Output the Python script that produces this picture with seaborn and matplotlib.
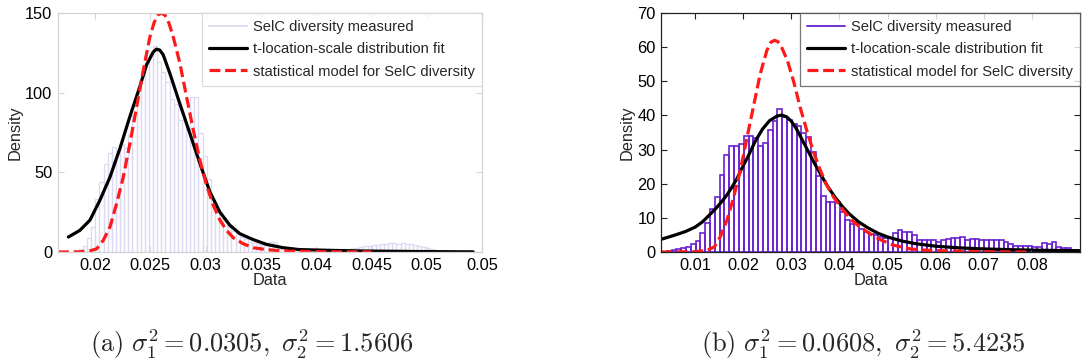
import numpy as np
import pandas as pd
import matplotlib
matplotlib.use("Agg")
import matplotlib.pyplot as plt
from matplotlib.lines import Line2D
import seaborn as sns

# ---------------- data (a) ----------------
a_bin_start = 0.0178
a_bin_width = 0.000373
a_heights = [0.3, 0.8, 2, 4, 9, 16, 33, 44, 55, 62,
             66, 62, 68, 65, 74, 86, 99, 111, 119, 124,
             129, 119, 113, 107, 96, 93, 83, 83, 78, 97,
             97, 75, 60, 46, 33, 27, 21, 19, 16, 13,
             11, 9.5, 8, 6.5, 5.7, 5, 4.5, 5, 6.5, 6.5,
             4, 3, 2.5, 2.2, 2, 1.8, 1.6, 1.5, 1.3, 1.2,
             1, 1, 0.9, 0.9, 1, 1.3, 1.6, 2, 2.3, 2.8,
             3.2, 3.5, 3.8, 4.2, 4.6, 5, 5.2, 5.4, 5.5, 5.3,
             5.5, 5.2, 4.8, 4.5, 4, 3.2, 2.4, 1.6, 1, 0.5,
             0.3, 0.2, 0.1, 0.1, 0.1, 0, 0, 0, 0, 0]
a_fit_x = [0.0176, 0.01864, 0.01955, 0.02045, 0.02136, 0.02226, 0.02316, 0.02407,
           0.02467, 0.02527, 0.02555, 0.02585, 0.02617, 0.02678, 0.02768, 0.02858, 0.02949,
           0.03039, 0.0313, 0.0322, 0.0331, 0.0343, 0.0355, 0.037, 0.0385, 0.0415,
           0.0445, 0.049, 0.0542]
a_fit_y = [9.4, 13.6, 20, 32.5, 47, 65, 85, 104,
           117.5, 125.5, 127.3, 126.8, 123.8, 112, 93, 74.5, 55.6,
           37.8, 25, 16.8, 11.5, 7.8, 4.8, 2.7, 1.5, 1.0,
           0.6, 0.3, 0.1]
a_mod_x = [0.01666, 0.0185, 0.0195, 0.02015, 0.02075, 0.02136, 0.02196, 0.02256,
           0.02316, 0.02377, 0.02437, 0.02497, 0.02535, 0.02570, 0.02602, 0.02635,
           0.02670, 0.02708,
           0.02768, 0.02828, 0.02889, 0.02949, 0.03009, 0.0307, 0.0313, 0.0319,
           0.0325, 0.0334, 0.0343, 0.0355, 0.037, 0.04, 0.045]
a_mod_y = [0, 0.1, 0.6, 2, 7.3, 15.7, 30.4, 47,
           68, 91, 114, 135, 144, 148.8, 150, 148.5,
           143.5, 135,
           118.5, 97.5, 76.6, 57.7, 42, 29.4, 20, 13.6,
           9, 5.2, 2.7, 1.5, 0.6, 0.2, 0]

# ---------------- data (b) ----------------
b_bin_start = 0.0041
b_bin_width = 0.001
b_heights = [0.3, 0.6, 0.8, 1.3, 1.6, 2.4, 3.3, 5.5, 8.6, 12.6,
             16.2, 22.5, 28.5, 30.9, 30.9, 31.5, 34, 34, 33.3, 31,
             32, 35.6, 38.3, 42, 39.5, 38.7, 37.5, 36.8, 35, 33.8,
             29.2, 22.4, 16.5, 14.6, 14.6, 14.6, 11.6, 9.3, 8.3, 8.7,
             6.8, 5.8, 5.3, 5.0, 4.4, 4.0, 4.2, 5.6, 6.3, 6.0,
             5.8, 5.1, 3.5, 3.5, 3.5, 3.4, 2.9, 3.6, 3.9, 4.0,
             4.2, 4.4, 3.6, 3.7, 3.8, 3.6, 3.6, 3.6, 3.6, 3.5,
             2.9, 2.2, 1.8, 1.9, 1.7, 1.7, 1.6, 1.6, 2.5, 2.4,
             2.9, 1.5, 1.3, 1.1, 0.6]
b_fit_x = [0.0029, 0.0059, 0.0080, 0.0100, 0.0115, 0.0128, 0.0142, 0.0155, 0.0166,
           0.0176, 0.0187, 0.0197, 0.0210, 0.0224, 0.0240, 0.0255, 0.0270, 0.0280,
           0.0290, 0.0300, 0.0310, 0.0322, 0.0335, 0.0348, 0.0362, 0.0375, 0.0390,
           0.0405, 0.0420, 0.0440, 0.0460, 0.0480, 0.0500, 0.0530, 0.0560, 0.0600,
           0.0650, 0.0700, 0.0750, 0.0800, 0.0850, 0.0900]
b_fit_y = [3.7, 5.0, 6.0, 7.3, 8.8, 10.6, 12.6, 14.7, 16.7,
           18.9, 21.5, 24.5, 28, 32.2, 36, 38.5, 39.8, 40.1,
           39.6, 38.3, 36.2, 33, 29.5, 26, 22.5, 19.3, 16.2,
           13.5, 11.2, 8.8, 7.0, 5.5, 4.4, 3.2, 2.4, 1.7,
           1.2, 0.9, 0.7, 0.55, 0.45, 0.38]
b_mod_x = [0.0029, 0.0100, 0.0125, 0.0140, 0.0152, 0.0166, 0.0180, 0.0194, 0.0207,
           0.0221, 0.0235, 0.0249, 0.0257, 0.0265, 0.0272, 0.0279, 0.0292, 0.0305,
           0.0318, 0.0332,
           0.0346, 0.0360, 0.0374, 0.0388, 0.0408, 0.0429, 0.0457, 0.0485, 0.0512,
           0.0547, 0.0582, 0.0651, 0.0720, 0.0800]
b_mod_y = [0, 0.1, 0.5, 1.5, 4.4, 9.3, 16, 24, 33,
           42.5, 52, 59, 61.4, 62, 61.6, 60.2, 56, 49.8,
           42.5, 35.6,
           29.3, 24, 19.5, 16, 12.2, 8.8, 5.9, 3.6, 2.0,
           0.9, 0.5, 0.2, 0.05, 0]

legend_labels = ["SelC diversity measured", "t-location-scale distribution fit",
                 "statistical model for SelC diversity"]
a_xticks = [0.02, 0.025, 0.03, 0.035, 0.04, 0.045, 0.05, 0.055]
a_xticklabels = ["0.02", "0.025", "0.03", "0.035", "0.04", "0.045", "0.05", "0.05"]
a_yticks = [0, 50, 100, 150]
b_xticks = [0.01, 0.02, 0.03, 0.04, 0.05, 0.06, 0.07, 0.08]
b_xticklabels = ["0.01", "0.02", "0.03", "0.04", "0.05", "0.06", "0.07", "0.08"]
b_yticks = [0, 10, 20, 30, 40, 50, 60, 70]
captions = [r"$\mathrm{(a)}\ \sigma_1^2 = 0.0305,\ \sigma_2^2 = 1.5606$",
            r"$\mathrm{(b)}\ \sigma_1^2 = 0.0608,\ \sigma_2^2 = 5.4235$"]

# ---------------- style ----------------
sns.set_theme(style="white")
plt.rcParams['font.family'] = ['Liberation Sans', 'DejaVu Sans']
plt.rcParams['mathtext.fontset'] = 'cm'

FS = 11.8
LFS = 10.6
RED = "#ff1a1a"
DASH = (0, (3.4, 1.5))
fig = plt.figure(figsize=(10.86, 3.63), dpi=100)
axA = fig.add_axes([58/1086, 1-252/363, (482-58)/1086, (252-13)/363])
axB = fig.add_axes([661/1086, 1-252/363, (1080-661)/1086, (252-13)/363])


def draw(ax, start, width, heights, fx, fy, mx, my, hist_color, frame_color,
         legend_edge, xlim, ylim, xticks, xticklabels, yticks, hist_lw):
    n = len(heights)
    edges = [float(v) for v in start + width * np.arange(n + 1)]
    centers = [(edges[i] + edges[i + 1]) / 2 for i in range(n)]
    df = pd.DataFrame({"x": centers, "w": heights})
    sns.histplot(data=df, x="x", weights="w", bins=edges, stat="count",
                 fill=False, element="bars", color=hist_color, linewidth=hist_lw, ax=ax)
    sns.lineplot(x=fx, y=fy, color="black", linewidth=2.3, ax=ax, sort=True)
    sns.lineplot(x=mx, y=my, color=RED, linewidth=2.3, ax=ax, sort=True,
                 linestyle=DASH)
    ax.set_xlim(*xlim)
    ax.set_ylim(*ylim)
    ax.set_xticks(xticks)
    ax.set_xticklabels(xticklabels, fontsize=FS)
    ax.set_yticks(yticks)
    ax.set_yticklabels([str(v) for v in yticks], fontsize=FS)
    ax.set_xlabel("Data", fontsize=FS, labelpad=0)
    ax.set_ylabel("Density", fontsize=FS, labelpad=2)
    ax.tick_params(direction="in", length=4, width=0.8, color=frame_color,
                   top=True, right=True, bottom=True, left=True, pad=4,
                   labelcolor="black")
    for s in ax.spines.values():
        s.set_color(frame_color)
        s.set_linewidth(0.9)
        s.set_visible(True)
    handles = [Line2D([], [], color=hist_color, lw=1.3),
               Line2D([], [], color="black", lw=2.3),
               Line2D([], [], color=RED, lw=2.3, linestyle=DASH)]
    leg = ax.legend(handles, legend_labels, loc="upper right", fontsize=LFS,
                    frameon=True, fancybox=False, borderaxespad=0.0,
                    handlelength=2.55, handletextpad=0.4, labelspacing=0.55,
                    borderpad=0.5)
    leg.get_frame().set_edgecolor(legend_edge)
    leg.get_frame().set_linewidth(0.9)


draw(axA, a_bin_start, a_bin_width, a_heights, a_fit_x, a_fit_y, a_mod_x, a_mod_y,
     "#ddd8f2", "#d4d4d4", "#d4d4d4", (0.01666, 0.055), (0, 150),
     a_xticks, a_xticklabels, a_yticks, 0.9)
draw(axB, b_bin_start, b_bin_width, b_heights, b_fit_x, b_fit_y, b_mod_x, b_mod_y,
     "#6a22d0", "#222222", "#555555", (0.0029, 0.09), (0, 70),
     b_xticks, b_xticklabels, b_yticks, 1.2)

fig.text(252/1086, 1-344/363, captions[0], fontsize=19, ha="center", va="center")
fig.text(863/1086, 1-344/363, captions[1], fontsize=19, ha="center", va="center")

fig.savefig("out.png", dpi=100)
